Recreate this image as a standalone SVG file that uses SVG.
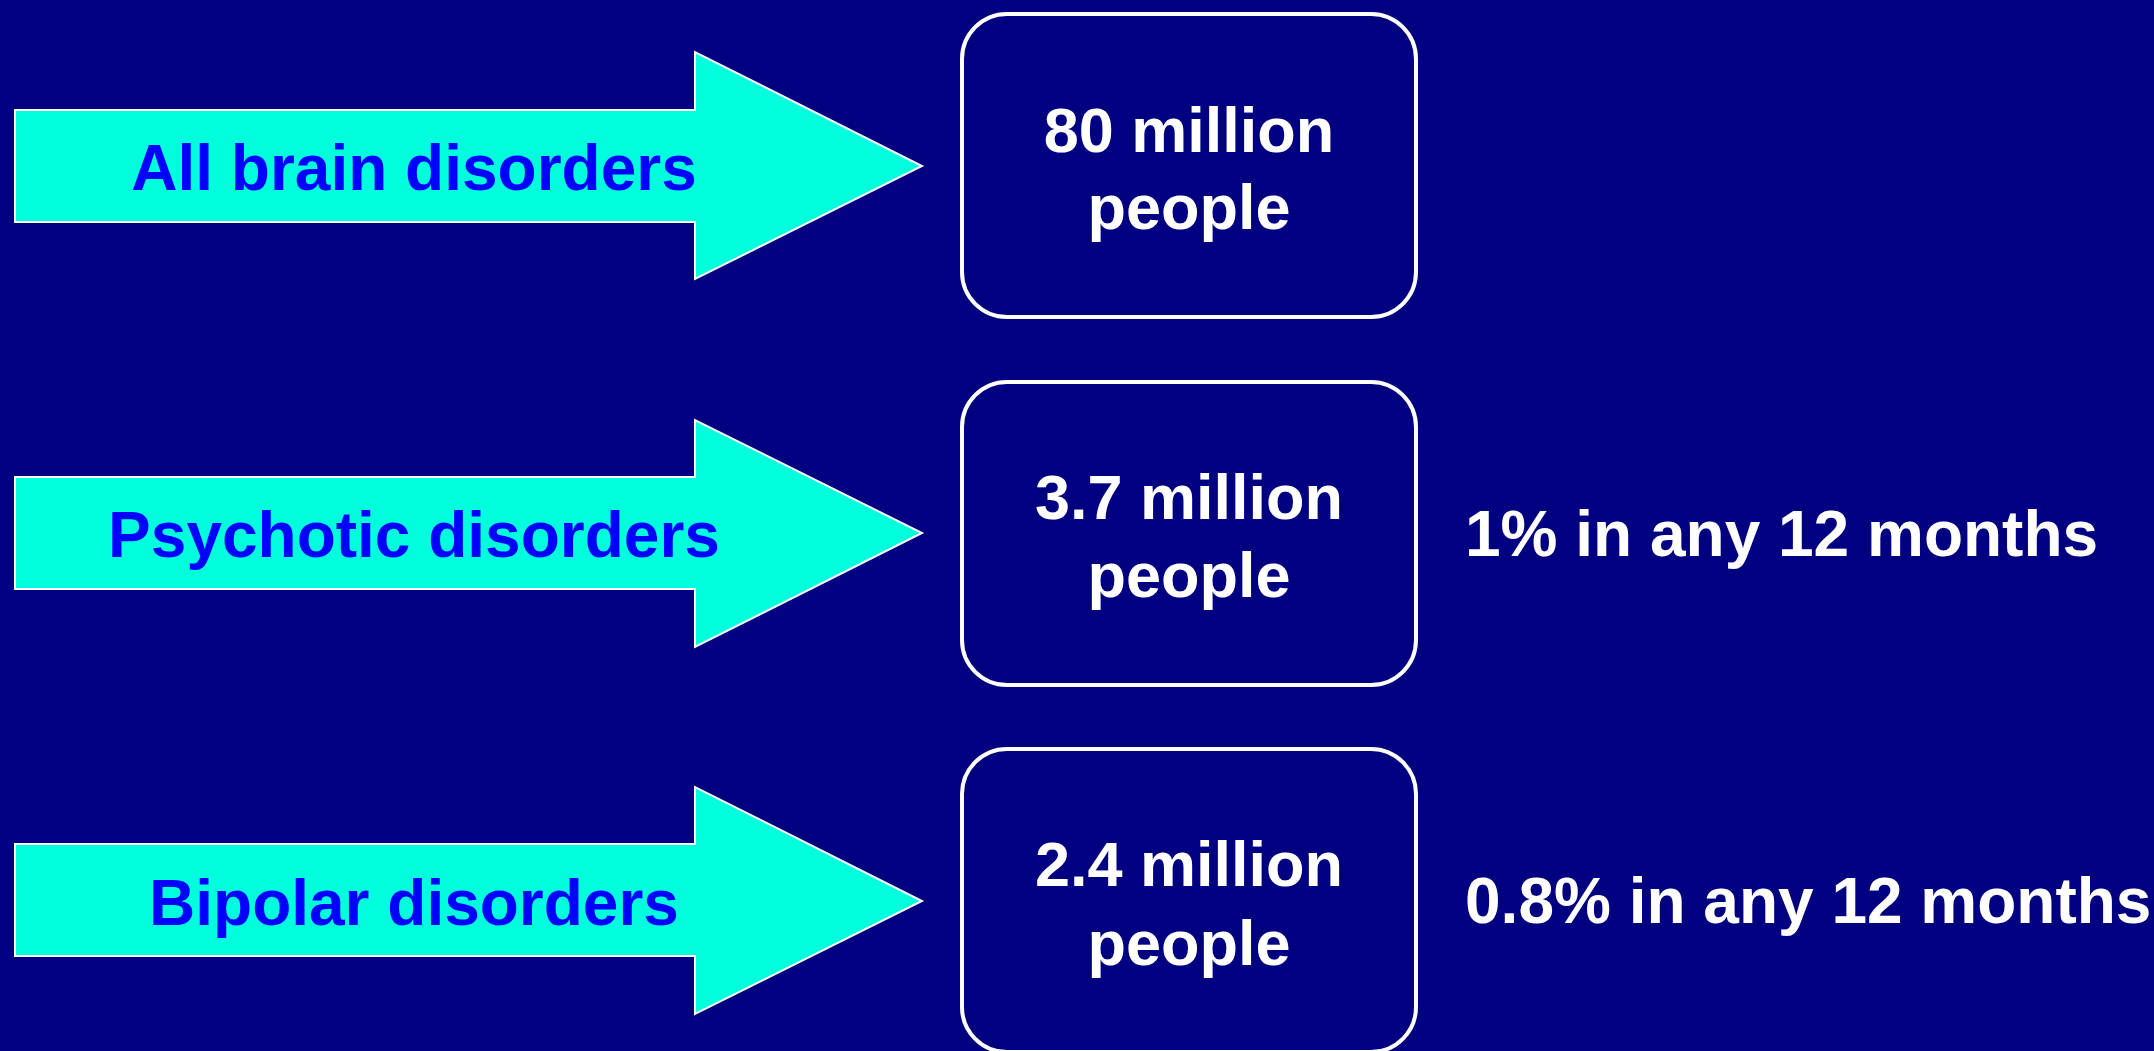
<svg xmlns="http://www.w3.org/2000/svg" width="2154" height="1051" viewBox="0 0 2154 1051">
<style>
.arrow{fill:#00FFDD;stroke:#FFFFFF;stroke-width:2}
.lbl{font-family:"Liberation Sans",Arial,sans-serif;font-weight:bold;font-size:64px;fill:#0000FF;text-anchor:middle}
.box{fill:none;stroke:#FFFFFF;stroke-width:4}
.btxt{font-family:"Liberation Sans",Arial,sans-serif;font-weight:bold;font-size:63px;fill:#FFFFFF;text-anchor:middle}
.rtxt{font-family:"Liberation Sans",Arial,sans-serif;font-weight:bold;font-size:64px;fill:#FFFFFF}
</style>
<rect x="0" y="0" width="2154" height="1051" fill="#000080"/>
<g id="arrow-all">
<polygon class="arrow" points="15,110 695,110 695,52 922,166 695,279 695,222 15,222"/>
<text class="lbl" x="414" y="190">All brain disorders</text>
</g>
<g id="arrow-psychotic">
<polygon class="arrow" points="15,477 695,477 695,420 922,533 695,647 695,589 15,589"/>
<text class="lbl" x="414" y="557">Psychotic disorders</text>
</g>
<g id="arrow-bipolar">
<polygon class="arrow" points="15,844 695,844 695,787 922,901 695,1014 695,956 15,956"/>
<text class="lbl" x="414" y="925">Bipolar disorders</text>
</g>
<g id="box-all">
<rect class="box" x="962" y="14" width="454" height="303" rx="45" ry="45"/>
<text class="btxt" x="1189" y="152">80 million</text>
<text class="btxt" x="1189" y="229">people</text>
</g>
<g id="box-psychotic">
<rect class="box" x="962" y="382" width="454" height="303" rx="45" ry="45"/>
<text class="btxt" x="1189" y="519">3.7 million</text>
<text class="btxt" x="1189" y="597">people</text>
</g>
<g id="box-bipolar">
<rect class="box" x="962" y="749" width="454" height="303" rx="45" ry="45"/>
<text class="btxt" x="1189" y="886">2.4 million</text>
<text class="btxt" x="1189" y="965">people</text>
</g>
<g id="note-psychotic">
<text class="rtxt" x="1465" y="556">1% in any 12 months</text>
</g>
<g id="note-bipolar">
<text class="rtxt" x="1465" y="923">0.8% in any 12 months</text>
</g>
<g id="connectors"></g>
</svg>
